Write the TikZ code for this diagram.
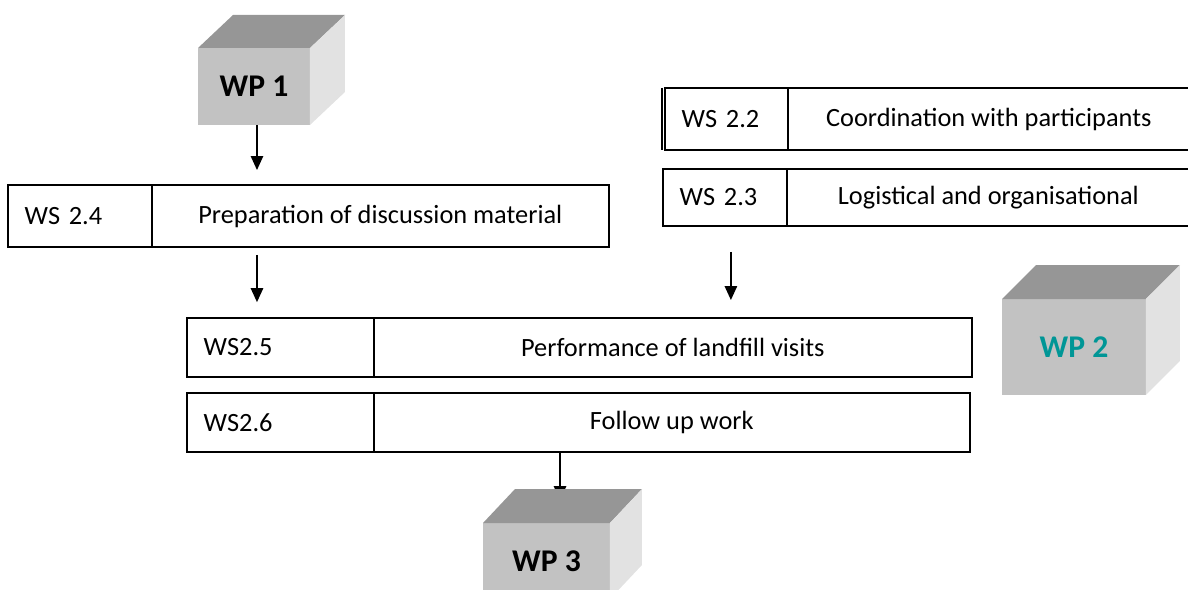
\documentclass[tikz,border=0pt]{standalone}
\usepackage{fontspec}
\setmainfont{Carlito}
\usepackage{xcolor}
\usepackage{tikz}
\usetikzlibrary{arrows.meta, positioning}
\definecolor{cubegrey}{RGB}{194,194,194}
\definecolor{cubedark}{RGB}{150,150,150}
\definecolor{cubelight}{RGB}{226,226,226}
\definecolor{wpteal}{RGB}{0,150,150}
\tikzset{
    idcell/.style={rectangle, draw, line width=1pt, outer sep=0pt, inner xsep=9.5pt, align=left, font=\fontsize{15}{18}\selectfont},
    task/.style={rectangle, draw, line width=1pt, outer sep=0pt, text centered, font=\fontsize{15}{18}\selectfont},
    wpface/.style={rectangle, fill=cubegrey, outer sep=0pt, text centered, font=\fontsize{18}{22}\selectfont\bfseries},
    wptop/.style={fill=cubedark},
    wpside/.style={fill=cubelight},
    flow/.style={-{Triangle[width=7pt,length=8pt]}, line width=1.1pt}
}

\begin{document}
\begin{tikzpicture}[x=0.02cm, y=-0.02cm, node distance=0pt]
    \clip (0,0) rectangle (1188,590);
    % Work package WP 1
    \node[wpface, minimum width=2.24cm, minimum height=1.54cm] (wp1) at (254,86.5) {WP 1};
    \fill[wptop] (wp1.north west) -- ++(35,-33) -- ++(112,0) -- (wp1.north east) -- cycle;
    \fill[wpside] (wp1.north east) -- ++(35,-33) -- ([shift={(35,-33)}]wp1.south east) -- (wp1.south east) -- cycle;
    % Work steps
    \node[idcell, anchor=north west, text width=2.21cm, minimum height=1.24cm] (ws24id) at (8,185) {WS 2.4};
    \node[task, right=of ws24id, minimum width=9.14cm, minimum height=1.24cm] (ws24lbl) {Preparation of discussion material};
    \node[idcell, anchor=north west, text width=1.79cm, minimum height=1.24cm] (ws22id) at (665,88) {WS 2.2};
    \node[task, right=of ws22id, minimum width=8.04cm, minimum height=1.24cm] (ws22lbl) {Coordination with participants};
    \draw[line width=1pt] ([xshift=-1.6pt]ws22id.north west) -- ([xshift=-1.6pt]ws22id.south west);
    \node[idcell, anchor=north west, text width=1.81cm, minimum height=1.14cm] (ws23id) at (663,169) {WS 2.3};
    \node[task, right=of ws23id, minimum width=8.06cm, minimum height=1.14cm] (ws23lbl) {Logistical and organisational};
    \node[idcell, anchor=north west, text width=3.07cm, minimum height=1.18cm] (ws25id) at (187,318) {WS2.5};
    \node[task, right=of ws25id, minimum width=11.96cm, minimum height=1.18cm] (ws25lbl) {Performance of landfill visits};
    \node[idcell, anchor=north west, text width=3.07cm, minimum height=1.18cm] (ws26id) at (187,393) {WS2.6};
    \node[task, right=of ws26id, minimum width=11.92cm, minimum height=1.18cm] (ws26lbl) {Follow up work};
    % Work package WP 2
    \node[wpface, text=wpteal, minimum width=2.88cm, minimum height=1.92cm] (wp2) at (1074,347) {WP 2};
    \fill[wptop] (wp2.north west) -- ++(34,-34) -- ++(144,0) -- (wp2.north east) -- cycle;
    \fill[wpside] (wp2.north east) -- ++(34,-34) -- ([shift={(34,-34)}]wp2.south east) -- (wp2.south east) -- cycle;
    % Work package WP 3
    \node[wpface, minimum width=2.54cm, minimum height=1.52cm] (wp3) at (546.5,561) {WP 3};
    % Flows
    \draw[flow, shorten >=8.5pt] ([xshift=1.7pt]wp1.south) -- ([xshift=1.7pt]wp1.south |- ws24lbl.north);
    \draw[flow, shorten <=4.5pt, shorten >=9pt] ([xshift=1.7pt]wp1.south |- ws24lbl.south) -- ([xshift=1.7pt]wp1.south |- ws25id.north);
    \draw[flow, shorten <=14.7pt, shorten >=10.2pt] ([xshift=3.4pt]ws23id.south) -- ([xshift=3.4pt]ws23id.south |- ws25lbl.north);
    \draw[flow] ([xshift=7.7pt]wp3.north |- ws26lbl.south) -- ([xshift=7.7pt, yshift=13pt]wp3.north);
    \fill[wptop] (wp3.north west) -- ++(32,-34) -- ++(127,0) -- (wp3.north east) -- cycle;
    \fill[wpside] (wp3.north east) -- ++(32,-34) -- ([shift={(32,-34)}]wp3.south east) -- (wp3.south east) -- cycle;
\end{tikzpicture}
\end{document}
